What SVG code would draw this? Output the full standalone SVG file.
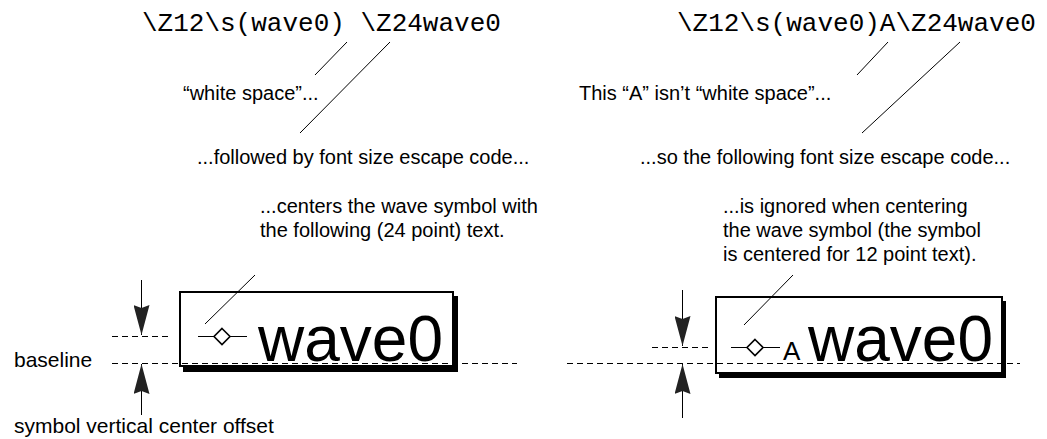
<svg xmlns="http://www.w3.org/2000/svg" width="1047" height="439" viewBox="0 0 1047 439">
<defs>
<style>
.mono{font-family:"Liberation Mono","Courier New",monospace;font-size:26px;fill:#000}
.t{font-family:"Liberation Sans",Arial,sans-serif;font-size:20px;fill:#000}
.lbl{font-family:"Liberation Sans",Arial,sans-serif;font-size:21px;fill:#000}
.big{font-family:"Liberation Sans",Arial,sans-serif;font-size:64px;fill:#000}
.ld{stroke:#000;stroke-width:1;fill:none}
.dash{stroke:#000;stroke-width:1;stroke-dasharray:6,4;fill:none}
.box{fill:#fff;stroke:#000;stroke-width:2}
.sh{fill:#000}
.dia{fill:#fff;stroke:#000;stroke-width:1.6}
</style>
<marker id="ah" viewBox="0 0 30 16" refX="30" refY="8" markerWidth="30" markerHeight="16" markerUnits="userSpaceOnUse" orient="auto">
<path d="M0,0 L30,8 L0,16 L3,8 Z" fill="#222"/>
</marker>
</defs>
<rect width="1047" height="439" fill="#fff"/>

<g id="left-code"><text class="mono" x="142" y="31">\Z12\s(wave0) \Z24wave0</text></g>
<g id="left-ws"><text class="t" x="183" y="100">“white space”...</text></g>
<g id="left-followed"><text class="t" x="197" y="164">...followed by font size escape code...</text></g>
<g id="left-centers"><text class="t" x="260" y="213">...centers the wave symbol with</text><text class="t" x="260" y="237">the following (24 point) text.</text></g>
<g id="left-labels"><text class="lbl" x="14" y="367">baseline</text><text class="lbl" x="14" y="433">symbol vertical center offset</text></g>

<g id="left-box">
<rect class="sh" x="183" y="296" width="275" height="76"/>
<rect class="box" x="180" y="292" width="273" height="74"/>
<line class="ld" x1="198" y1="336.5" x2="247" y2="336.5"/>
<path class="dia" d="M222,328.5 L230,336.5 L222,344.5 L214,336.5 Z"/>
<text class="big" x="258" y="361">wave0</text>
</g>

<g id="right-code"><text class="mono" x="677" y="31">\Z12\s(wave0)A\Z24wave0</text></g>
<g id="right-ws"><text class="t" x="579" y="100">This “A” isn’t “white space”...</text></g>
<g id="right-so"><text class="t" x="640" y="164">...so the following font size escape code...</text></g>
<g id="right-ignored"><text class="t" x="723" y="213">...is ignored when centering</text><text class="t" x="723" y="237">the wave symbol (the symbol</text><text class="t" x="723" y="261">is centered for 12 point text).</text></g>

<g id="right-box">
<rect class="sh" x="719" y="301" width="287" height="77"/>
<rect class="box" x="716" y="297" width="286" height="76"/>
<line class="ld" x1="731" y1="347.5" x2="780" y2="347.5"/>
<path class="dia" d="M755,339.5 L763,347.5 L755,355.5 L747,347.5 Z"/>
<text class="t" style="font-size:26px" x="783" y="360">A</text>
<text class="big" x="808" y="361">wave0</text>
</g>

<g id="connectors">
<line class="ld" x1="347" y1="42" x2="315" y2="75"/>
<line class="ld" x1="390" y1="42" x2="300" y2="133"/>
<line class="ld" x1="255" y1="275" x2="205" y2="324"/>
<line class="ld" x1="888" y1="42" x2="857" y2="75"/>
<line class="ld" x1="960" y1="42" x2="862" y2="133"/>
<line class="ld" x1="793" y1="275" x2="744" y2="325"/>
<line class="dash" x1="112" y1="336.5" x2="168" y2="336.5"/>
<line class="dash" x1="112" y1="363.5" x2="517" y2="363.5"/>
<line class="dash" x1="652" y1="347.5" x2="708" y2="347.5"/>
<line class="dash" x1="567" y1="363.5" x2="1020" y2="363.5"/>
<line class="ld" x1="141.5" y1="280" x2="141.5" y2="335" marker-end="url(#ah)"/>
<line class="ld" x1="141.5" y1="415" x2="141.5" y2="364" marker-end="url(#ah)"/>
<line class="ld" x1="682.5" y1="290" x2="682.5" y2="346" marker-end="url(#ah)"/>
<line class="ld" x1="682.5" y1="418" x2="682.5" y2="364" marker-end="url(#ah)"/>
</g>
</svg>
